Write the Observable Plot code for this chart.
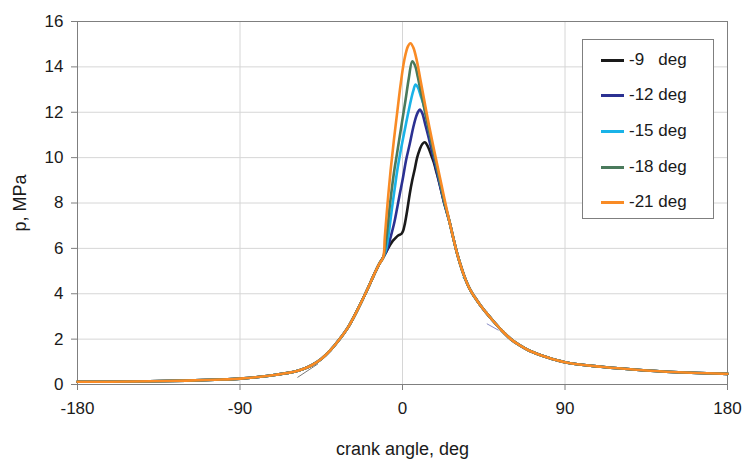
<!DOCTYPE html>
<html>
<head>
<meta charset="utf-8">
<script src="https://cdn.jsdelivr.net/npm/d3@7"></script>
<script src="https://cdn.jsdelivr.net/npm/@observablehq/plot@0.6"></script>
<style>
  html, body { margin: 0; padding: 0; background: #fff; }
  #wrap { position: relative; width: 745px; height: 459px; font-family: "Liberation Sans", Arial, sans-serif; }
  #legend { position: absolute; left: 582px; top: 39px; width: 130px; height: 178px; border: 1px solid #7f7f7f; background: #fff; }
  .row { position: absolute; left: 0; height: 20px; display: flex; align-items: center; font-size: 17px; color: #1a1a1a; white-space: pre; }
  .sw { display: inline-block; width: 23px; height: 3px; margin-left: 18px; margin-right: 5px; }
</style>
</head>
<body>
<div id="wrap"><div id="legend"></div></div>
<script>
// ---- data ----
const xTicks = [-180, -90, 0, 90, 180];
const yTicks = [0, 2, 4, 6, 8, 10, 12, 14, 16];
const seriesNames = ["-9   deg", "-12 deg", "-15 deg", "-18 deg", "-21 deg"];
const seriesColors = ["#1a1a1a", "#2b3192", "#19b3e8", "#4a7a5c", "#f98b25"];

// shared compression / expansion branches
const baseLeftAngle = [-180, -150, -120, -100, -90, -80, -70, -60, -55, -50, -45, -40, -35, -30, -25, -20, -16, -13];
const baseLeftP     = [0.12, 0.13, 0.17, 0.22, 0.26, 0.33, 0.43, 0.56, 0.68, 0.86, 1.12, 1.5, 1.98, 2.54, 3.28, 4.1, 4.8, 5.3];
const baseRightAngle = [28, 30, 32, 34, 36, 38, 40, 43, 46, 50, 55, 60, 65, 70, 80, 90, 110, 135, 160, 180];
const baseRightP     = [6.5, 5.85, 5.3, 4.82, 4.42, 4.1, 3.85, 3.5, 3.2, 2.82, 2.38, 2.0, 1.72, 1.5, 1.2, 0.98, 0.78, 0.62, 0.52, 0.47];

// combustion sections, one per ignition timing
const blackAngle = [-10.7, -9, -7, -5.5, -4.3, -2.4, -0.6, 0.4, 1.3, 2.6, 4, 5.4, 6.8, 8.1, 9.5, 11, 12.4, 14, 15.5, 17.3, 19, 21, 22.9, 24.5, 26];
const blackP     = [5.6, 5.85, 6.13, 6.32, 6.42, 6.57, 6.64, 6.79, 7.08, 7.67, 8.4, 9.0, 9.5, 10.0, 10.35, 10.6, 10.68, 10.5, 10.2, 9.8, 9.3, 8.7, 8.05, 7.6, 7.18];
const blueAngle = [-10.7, -8.5, -6.6, -4.5, -2.9, -1.5, 0, 2, 4, 6, 7.5, 8.5, 9.6, 11, 12.5, 14.6, 16.5, 18.5, 20.5, 22.5, 24, 26];
const blueP     = [5.6, 5.95, 6.49, 7.15, 7.8, 8.4, 9.0, 9.9, 10.6, 11.35, 11.8, 12.0, 12.12, 11.95, 11.5, 10.85, 10.2, 9.55, 8.85, 8.2, 7.75, 7.18];
const cyanAngle = [-10.7, -9.1, -7.9, -6.5, -5.5, -4.2, -2.9, -1, 0.7, 2.2, 3.5, 5, 6, 7.2, 8.5, 10, 11.8, 13.5, 15, 17, 19, 21, 23, 24.5, 26];
const cyanP     = [5.6, 5.95, 6.49, 7.35, 7.96, 8.7, 9.43, 10.3, 11.0, 11.6, 12.1, 12.65, 12.95, 13.22, 13.1, 12.75, 12.3, 11.7, 11.1, 10.35, 9.6, 8.85, 8.12, 7.65, 7.18];
const greenAngle = [-10.7, -8.9, -7, -4.8, -3, -1.5, -0.2, 1.7, 3.5, 5.4, 7, 8.5, 10, 12, 14.6, 17, 19, 21, 23, 24.5, 26];
const greenP     = [5.6, 6.49, 7.9, 9.3, 10.2, 10.95, 11.6, 12.55, 13.5, 14.25, 14.05, 13.55, 12.96, 12.2, 11.2, 10.3, 9.6, 8.85, 8.12, 7.65, 7.18];
const orangeAngle = [-10.7, -9.8, -8.3, -6.6, -4.8, -3, -1, 1, 3, 4.4, 6, 8, 10, 12, 14, 16.4, 18, 20, 22, 24, 26];
const orangeP     = [5.6, 6.49, 7.96, 9.43, 10.75, 11.95, 13.25, 14.3, 14.9, 15.04, 14.85, 14.25, 13.4, 12.55, 11.7, 10.75, 10.15, 9.4, 8.65, 7.9, 7.18];

// faint tangent fragments visible in the reference
const fragAngle = [[-58, -47], [33.4, 37.7], [46.9, 53]];
const fragP     = [[0.32, 0.9], [4.73, 4.22], [2.67, 2.4]];
const fragColor = ["#555555", "#19b3e8", "#6a6fb8"];

// ---- build rows ----
const peakAngles = [blackAngle, blueAngle, cyanAngle, greenAngle, orangeAngle];
const peakPs = [blackP, blueP, cyanP, greenP, orangeP];
const rows = [];
seriesNames.forEach((name, i) => {
  baseLeftAngle.forEach((a, j) => rows.push({series: name, angle: a, p: baseLeftP[j]}));
  peakAngles[i].forEach((a, j) => rows.push({series: name, angle: a, p: peakPs[i][j]}));
  baseRightAngle.forEach((a, j) => rows.push({series: name, angle: a, p: baseRightP[j]}));
});
const frags = [];
fragAngle.forEach((arr, i) => arr.forEach((a, j) => frags.push({id: i, angle: a, p: fragP[i][j], c: fragColor[i]})));

const gridXVals = [-90, 0, 90];
const gridYVals = [2, 4, 6, 8, 10, 12, 14];

const chart = Plot.plot({
  width: 745,
  height: 459,
  marginLeft: 77,
  marginRight: 18,
  marginTop: 21,
  marginBottom: 75,
  style: {fontFamily: "'Liberation Sans', Arial, sans-serif", fontSize: "17px", background: "white", color: "#1a1a1a"},
  x: {domain: [-180, 180]},
  y: {domain: [0, 16]},
  color: {domain: seriesNames, range: seriesColors},
  marks: [
    Plot.ruleX(gridXVals, {stroke: "#d6d6d6", strokeWidth: 1}),
    Plot.ruleY(gridYVals, {stroke: "#d6d6d6", strokeWidth: 1}),
    Plot.frame({stroke: "#7f7f7f", strokeWidth: 1}),
    Plot.axisX(xTicks, {tickSize: 6, tickPadding: 11, stroke: "#7f7f7f", fill: "#1a1a1a", tickFormat: d => String(d), label: null, fontSize: 17}),
    Plot.axisY(yTicks, {tickSize: 6, tickPadding: 8, stroke: "#7f7f7f", fill: "#1a1a1a", tickFormat: d => String(d), label: null, fontSize: 17}),
    Plot.line(frags, {x: "angle", y: "p", z: "id", stroke: "c", strokeWidth: 0.8}),
    Plot.line(rows, {x: "angle", y: "p", z: "series", stroke: "series", strokeWidth: 2.6, curve: "catmull-rom"}),
    Plot.text(["crank angle, deg"], {frameAnchor: "bottom", dy: 65, lineAnchor: "middle", textAnchor: "middle", text: d => d, fontSize: 18, fill: "#1a1a1a"}),
    Plot.text(["p, MPa"], {frameAnchor: "left", dx: -57, rotate: -90, textAnchor: "middle", lineAnchor: "middle", text: d => d, fontSize: 18, fill: "#1a1a1a"})
  ]
});
document.getElementById("wrap").prepend(chart);

// legend
const legend = document.getElementById("legend");
const rowTops = [10, 45, 81, 117, 152];
seriesNames.forEach((name, i) => {
  const r = document.createElement("div");
  r.className = "row";
  r.style.top = rowTops[i] + "px";
  const sw = document.createElement("span");
  sw.className = "sw";
  sw.style.background = seriesColors[i];
  r.appendChild(sw);
  r.appendChild(document.createTextNode(name));
  legend.appendChild(r);
});
</script>
</body>
</html>
